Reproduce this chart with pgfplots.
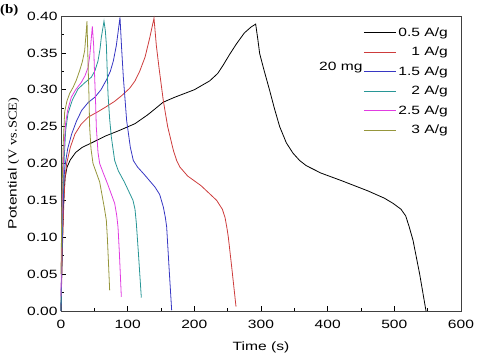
\documentclass[border=0pt]{standalone}
\usepackage{fontspec}
\setmainfont{Liberation Sans}[FakeStretch=1.3]
\newfontfamily\serifw{Liberation Serif}[FakeStretch=1.2]
\newfontfamily\serifb{Liberation Serif}[FakeStretch=1.15]
\usepackage{pgfplots}
\pgfplotsset{compat=1.18}
\definecolor{cred}{RGB}{205,60,60}
\definecolor{cblue}{RGB}{55,55,195}
\definecolor{cteal}{RGB}{40,150,150}
\definecolor{cmag}{RGB}{225,60,225}
\definecolor{colive}{RGB}{150,150,60}
\begin{document}
\begin{tikzpicture}
\begin{axis}[name=ax,
  scale only axis, width=400pt, height=295pt,
  xmin=0, xmax=600, ymin=0, ymax=0.40,
  xtick={0,100,...,600}, minor xtick={50,150,...,550},
  ytick={0,0.05,...,0.401}, minor ytick={0.025,0.075,...,0.4},
  yticklabel style={/pgf/number format/.cd, fixed, fixed zerofill, precision=2},
  xticklabel style={yshift=-6pt},
  /pgf/number format/assume math mode=true,
  xtick pos=bottom, ytick pos=left, tick align=inside,
  major tick length=5pt, minor tick length=3pt,
  tick style={black, line width=0.6pt},
  axis line style={black!75, line width=0.8pt},
  font=\fontsize{12}{14}\selectfont,
  xlabel={Time (s)},
  ylabel={Potential {\serifw (V vs.SCE)}},
  xlabel style={yshift=-6pt},
  ylabel style={yshift=1pt},
  every axis plot/.append style={line width=0.8pt},
  legend style={draw=none, fill=none, at={(0.98,0.975)}, anchor=north east,
    row sep=5.3pt, font=\fontsize{12}{14}\selectfont},
  legend cell align=right,
  legend image code/.code={\draw[#1] (0pt,0pt) -- (32pt,0pt);},
  clip=false,
]
\addplot[black] table {
0 0
1 0.05
2.5 0.11
4 0.15
6 0.18
9 0.195
14 0.205
22 0.215
32 0.222
46 0.228
66 0.237
88 0.245
111 0.254
130 0.266
141 0.274
153 0.283
171 0.29
200 0.300
223 0.312
235 0.322
243 0.333
253 0.348
263 0.362
275 0.377
285 0.385
292 0.389
295 0.37
298 0.349
305 0.325
313 0.299
320 0.275
328 0.25
338 0.228
348 0.214
358 0.204
368 0.197
390 0.187
420 0.177
460 0.163
485 0.153
498 0.146
510 0.138
517 0.129
522 0.115
528 0.096
538 0.05
547.5 0.0
};
\addlegendentry{0.5 A/g}
\addplot[cred] table {
0 0
2 0.08
4 0.14
6 0.18
8.5 0.2
14 0.222
21 0.24
30 0.253
41 0.263
55 0.27
66 0.276
80 0.284
91 0.292
103 0.302
111 0.312
118 0.325
126 0.344
133 0.37
139.5 0.397
143 0.36
147 0.33
153.5 0.285
160 0.25
168.5 0.218
173.5 0.204
178.5 0.195
190 0.183
210 0.17
233.5 0.15
242 0.138
246 0.127
249 0.112
251 0.1
256 0.06
262.5 0.006
};
\addlegendentry{1 A/g}
\addplot[cblue] table {
0 0
1.5 0.08
3 0.14
4.5 0.18
6 0.197
10 0.22
16 0.24
23 0.257
31 0.272
41 0.283
51 0.29
60 0.3
68.5 0.314
74 0.325
78.5 0.339
83 0.36
88.5 0.398
91 0.355
93.5 0.317
98.5 0.258
104 0.222
108.5 0.204
115 0.195
125 0.185
141 0.168
148 0.158
153.5 0.141
156.5 0.127
158.5 0.114
162 0.06
166 0.001
};
\addlegendentry{1.5 A/g}
\addplot[cteal] table {
0 0
1.5 0.1
3 0.16
5 0.21
7 0.245
10.5 0.268
17 0.286
25.5 0.301
35 0.309
45.5 0.317
51 0.326
55.5 0.339
58.5 0.355
60.5 0.371
64.5 0.393
66.5 0.38
68 0.362
70.5 0.294
73 0.26
75.5 0.236
80.5 0.204
86 0.19
95 0.175
108 0.15
111 0.138
113 0.119
116 0.08
120.5 0.018
};
\addlegendentry{2 A/g}
\addplot[cmag] table {
0 0.02
1 0.1
2 0.15
3.5 0.2
5 0.23
7 0.255
10 0.272
15.5 0.29
22 0.3
30.5 0.31
36 0.319
40.5 0.33
43 0.345
45 0.365
47 0.386
49 0.36
50.5 0.317
52 0.28
53 0.249
55.5 0.215
58 0.2
63 0.188
70 0.172
80.5 0.146
83.5 0.13
85.5 0.114
87.5 0.08
90.5 0.019
};
\addlegendentry{2.5 A/g}
\addplot[colive] table {
0 0.05
1 0.12
2 0.18
3.5 0.23
5.5 0.27
9 0.285
13 0.295
18 0.303
23 0.313
28 0.326
32 0.338
35.5 0.353
37.5 0.375
39 0.393
40.5 0.339
42 0.29
43 0.249
45 0.22
48 0.2
52 0.19
58 0.175
65 0.14
68 0.123
69.5 0.1
71 0.07
73 0.028
};
\addlegendentry{3 A/g}
\node[anchor=east, font=\fontsize{12}{14}\selectfont] at (rel axis cs:0.7625,0.824) {20 mg};
\end{axis}
\node[anchor=north west, inner sep=0pt, font=\fontsize{13}{14}\selectfont\serifb\bfseries] at ([shift={(-61pt,12pt)}]ax.north west) {(b)};
\pgfresetboundingbox
\path[use as bounding box] ([shift={(-61pt,-44pt)}]ax.south west) rectangle ([shift={(16pt,16pt)}]ax.north east);
\end{tikzpicture}
\end{document}
